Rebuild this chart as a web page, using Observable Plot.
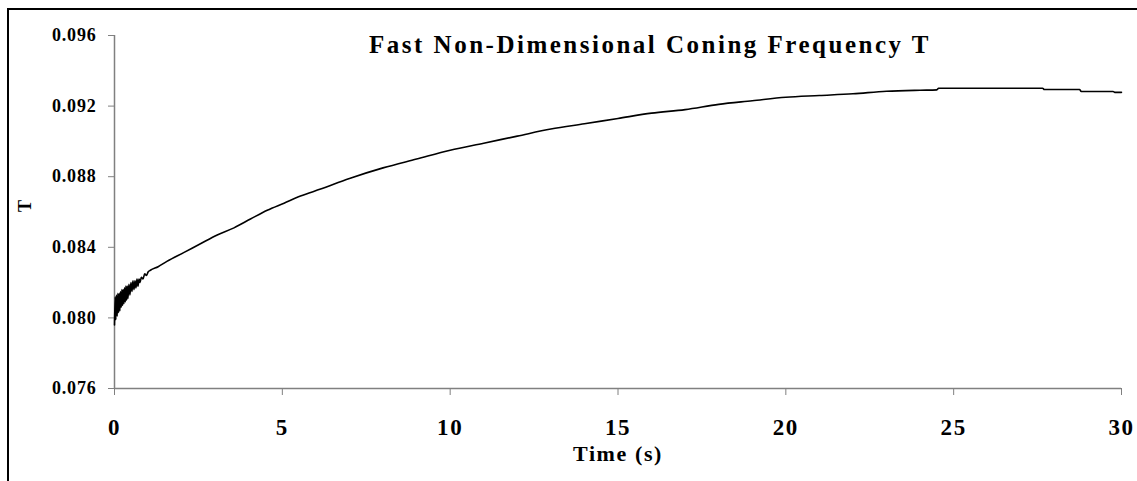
<!DOCTYPE html>
<html>
<head>
<meta charset="utf-8">
<script src="https://cdn.jsdelivr.net/npm/d3@7"></script>
<script src="https://cdn.jsdelivr.net/npm/@observablehq/plot@0.6"></script>
<style>
  html, body { margin: 0; padding: 0; background: #fff; }
  #wrap { position: relative; width: 1137px; height: 481px; overflow: hidden; }
  #border { position: absolute; left: 7px; top: 8px; width: 2000px; height: 2000px;
            border-top: 2px solid #000; border-left: 2px solid #000; pointer-events: none; }
</style>
</head>
<body>
<div id="wrap"><div id="border"></div></div>
<script>
const title = "Fast Non-Dimensional Coning Frequency T";
const xLabel = "Time (s)";
const yLabel = "T";
const xTicks = [0, 5, 10, 15, 20, 25, 30];
const yTicks = [0.076, 0.080, 0.084, 0.088, 0.092, 0.096];

// time (s)
const time = [
  0.00, 0.02, 0.04, 0.06, 0.08, 0.10, 0.12, 0.14, 0.16, 0.18,
  0.20, 0.22, 0.24, 0.26, 0.28, 0.30, 0.32, 0.34, 0.36, 0.38,
  0.40, 0.43, 0.46, 0.49, 0.52, 0.55, 0.58, 0.61, 0.64, 0.67,
  0.70, 0.73, 0.76, 0.80, 0.85, 0.90, 0.95, 1.00, 1.07, 1.3,
  1.56, 2.06, 2.56, 3.06, 3.56, 4.05, 4.55, 5.05, 5.54, 6.14, 7, 8, 9, 10, 11, 12, 13, 14, 15,
  16, 17, 18, 19, 20, 21, 22, 23, 24, 24.5, 24.55, 27.65, 27.7, 28.75, 28.8, 29.75, 29.8, 30
];
// non-dimensional coning frequency T
const freq = [
  0.0796, 0.0812, 0.0799, 0.0813, 0.0801, 0.0814, 0.0803, 0.0814, 0.0804, 0.0815,
  0.0806, 0.0816, 0.0807, 0.0816, 0.0808, 0.0817, 0.0809, 0.0818, 0.0810, 0.0818,
  0.0811, 0.0819, 0.0813, 0.0820, 0.0815, 0.0821, 0.0816, 0.0821, 0.0817, 0.0822,
  0.0818, 0.0822, 0.0820, 0.0823, 0.0822, 0.0825, 0.0824, 0.0826, 0.0827, 0.0829,
  0.0832, 0.0837, 0.0842, 0.0847, 0.0851, 0.0856, 0.0861, 0.0865, 0.0869, 0.0873,
  0.0879, 0.0885, 0.0890, 0.0895, 0.0899, 0.0903, 0.0907, 0.0910, 0.0913,
  0.0916, 0.0918, 0.0921, 0.0923, 0.0925, 0.0926, 0.0927, 0.09284, 0.09290, 0.09292,
  0.09301, 0.09301, 0.09294, 0.09294, 0.09283, 0.09283, 0.09278, 0.09278
];

const data = time.map((t, i) => ({t, v: freq[i]}));

const chart = Plot.plot({
  width: 1137,
  height: 481,
  marginLeft: 114,
  marginRight: 16,
  marginTop: 35,
  marginBottom: 93,
  style: {background: "transparent", color: "#000", overflow: "visible",
          fontFamily: "'Liberation Serif', 'Times New Roman', serif", fontWeight: "bold"},
  x: {domain: [0, 30]},
  y: {domain: [0.076, 0.096]},
  marks: [
    Plot.ruleX([0], {stroke: "#808080", strokeWidth: 1.5}),
    Plot.ruleY([0.076], {stroke: "#808080", strokeWidth: 1.5}),
    Plot.axisX({ticks: xTicks, tickSize: 7, tickPadding: 23, fontSize: 23, stroke: "#808080", fill: "#000", label: null, tickFormat: d => String(d)}),
    Plot.axisY({ticks: yTicks, tickSize: 6, tickPadding: 12, fontSize: 18, stroke: "#808080", fill: "#000", label: null, tickFormat: d3.format(".3f")}),
    Plot.line(data, {x: "t", y: "v", stroke: "#000", strokeWidth: 1.6, curve: "monotone-x"}),
    Plot.text([title], {frameAnchor: "top", dx: 32, dy: 0, fontSize: 25, fill: "#000"}),
    Plot.text([xLabel], {frameAnchor: "bottom", dy: 72, fontSize: 22, fill: "#000"}),
    Plot.text([yLabel], {frameAnchor: "left", dx: -89, rotate: -90, fontSize: 18, fill: "#000"})
  ]
});

document.getElementById("wrap").insertBefore(chart, document.getElementById("border"));
chart.style.position = "absolute";
chart.style.left = "0px";
chart.style.top = "0px";

// letter spacing per text size
d3.select(chart).selectAll("text").each(function() {
  const el = this;
  const fs = parseFloat(el.getAttribute("font-size") || el.parentNode.getAttribute("font-size") || 18);
  el.style.letterSpacing = (fs >= 25 ? 2.5 : fs >= 22 ? 1.6 : 0.8) + "px";
});
</script>
</body>
</html>
